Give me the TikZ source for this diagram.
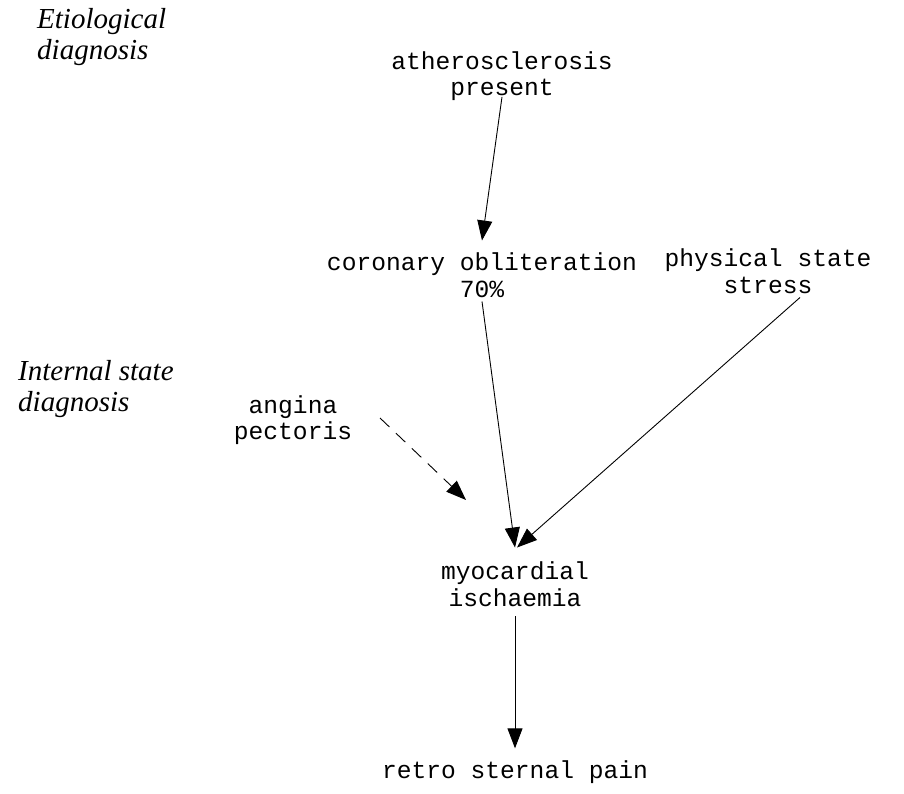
\documentclass[tikz,border=0pt]{standalone}
\usepackage{fontspec}
\setmainfont{Liberation Serif}
\newfontfamily\monofont{Liberation Mono}
\usetikzlibrary{arrows.meta,calc}
\begin{document}
\begin{tikzpicture}[x=1pt,y=-1pt,
  concept/.style={font=\monofont\fontsize{24.6}{26.5}\selectfont, align=center, inner sep=0pt},
  level/.style={font=\itshape\fontsize{29}{31}\selectfont, align=left, inner sep=0pt, anchor=north west},
  link/.style={-{Triangle[length=20pt,width=15pt]}, line width=0.9pt},
  hint/.style={link, dashed, dash pattern=on 13pt off 9pt}]
  \useasboundingbox (0,0) rectangle (904,794);

  % level labels
  \node[level] (etio) at (37,8) {Etiological\\diagnosis};
  \node[level] (inter) at (18,360) {Internal state\\diagnosis};

  % concepts
  \node[concept] (ather) at (502,76) {atherosclerosis\\present};
  \node[concept] (coron) at (482,275) {coronary obliteration\\70\%};
  \node[concept] (phys)  at (768,271) {physical state\\stress};
  \node[concept] (angina) at (293,420) {angina\\pectoris};
  \node[concept] (myo)   at (515,584) {myocardial\\ischaemia};
  \node[concept] (pain)  at (515,772) {retro sternal pain};

  % connectors
  \coordinate (physout) at ($(phys.south)+(32,4)$);
  \coordinate (hintfrom) at (380,418);
  \coordinate (hintto) at (466,500);
  \draw[link] ($(ather.south)+(0,-4)$) -- ($(coron.north)+(0,-12)$);
  \draw[link] ($(coron.south)+(0,4)$) -- ($(myo.north)+(0,-14)$);
  \draw[link] (physout) -- ($(myo.north)+(2,-14)$);
  \draw[hint] (hintfrom) -- (hintto);
  \draw[link] ($(myo.south)+(0,10)$) -- ($(pain.north)+(0,-12)$);
\end{tikzpicture}
\end{document}
